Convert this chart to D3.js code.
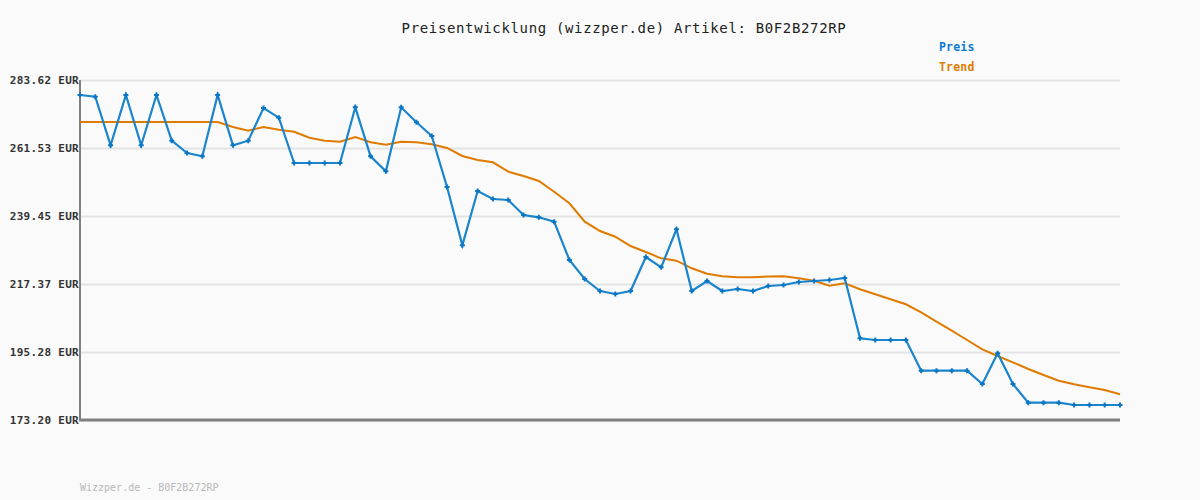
<!DOCTYPE html>
<html><head><meta charset="utf-8">
<script src="https://cdn.jsdelivr.net/npm/d3@7"></script>
<style>
html,body{margin:0;padding:0;background:#fafafa;}
svg{display:block;}
text{font-family:"DejaVu Sans Mono","Liberation Mono",monospace;}
</style></head><body>
<svg id="c" width="1200" height="500"></svg>
<script>
const title = "Preisentwicklung (wizzper.de) Artikel: B0F2B272RP";
const footer = "Wizzper.de - B0F2B272RP";
const seriesNames = ["Preis", "Trend"];
const yTicks = [173.20, 195.28, 217.37, 239.45, 261.53, 283.62];
const preis = [278.75, 278.20, 262.41, 278.75, 262.41, 278.75, 263.91, 259.91, 258.84, 278.75,
  262.41, 263.91, 274.53, 271.38, 256.66, 256.66, 256.66, 256.66, 274.75, 258.84,
  253.97, 274.75, 269.88, 265.43, 248.87, 229.94, 247.57, 244.97, 244.65, 239.78,
  239.03, 237.60, 225.16, 218.99, 215.09, 214.12, 215.09, 226.14, 222.79, 235.13,
  215.09, 218.34, 215.09, 215.74, 215.09, 216.72, 217.04, 218.02, 218.34, 218.67,
  219.32, 199.73, 199.18, 199.18, 199.18, 189.21, 189.21, 189.21, 189.21, 184.89,
  194.86, 184.89, 178.82, 178.82, 178.82, 178.07, 178.07, 178.07, 178.07];
const trend = [269.98, 269.98, 269.98, 269.98, 269.98, 269.98, 269.98, 269.98, 269.98, 269.98,
  268.36, 267.15, 268.36, 267.48, 266.83, 264.88, 263.91, 263.58, 265.11, 263.39,
  262.61, 263.58, 263.39, 262.74, 261.54, 258.94, 257.64, 256.89, 253.84, 252.44,
  250.82, 247.34, 243.58, 237.60, 234.58, 232.73, 229.71, 227.76, 225.71, 224.93,
  222.47, 220.71, 219.87, 219.54, 219.54, 219.80, 219.87, 219.22, 218.44, 216.82,
  217.60, 215.65, 214.02, 212.40, 210.78, 208.18, 205.12, 202.20, 199.18, 196.16,
  193.98, 191.94, 189.76, 187.81, 185.96, 184.79, 183.82, 182.94, 181.55];

const svg = d3.select("#c");
const L = 80, R = 1120, T = 80, B = 420;
const x = d3.scaleLinear().domain([0, preis.length - 1]).range([L, R]);
const y = d3.scaleLinear().domain([yTicks[0], yTicks[yTicks.length - 1]]).range([B, T]);

svg.append("rect").attr("width", 1200).attr("height", 500).attr("fill", "#fafafa");

// grid
const yAxis = d3.axisLeft(y).tickValues(yTicks).tickSize(-(R - L)).tickFormat(d => d.toFixed(2) + " EUR").tickPadding(0);
const ga = svg.append("g").attr("transform", `translate(${L},0)`).call(yAxis);
ga.select(".domain").remove();
ga.selectAll(".tick line").attr("stroke", "#e3e3e3").attr("stroke-width", 2);
ga.selectAll(".tick text").attr("fill", "#333").attr("font-size", 11).attr("font-weight", "bold")
  .attr("letter-spacing", "0.3px").attr("dy", "0.35em").attr("x", -1);

// axes lines
svg.append("line").attr("x1", L).attr("x2", L).attr("y1", T).attr("y2", B + 1)
  .attr("stroke", "#808080").attr("stroke-width", 2);
svg.append("line").attr("x1", L - 1).attr("x2", R).attr("y1", B).attr("y2", B)
  .attr("stroke", "#808080").attr("stroke-width", 3);

// trend line
svg.append("path").datum(trend).attr("fill", "none").attr("stroke", "#e07b00").attr("stroke-width", 2)
  .attr("d", d3.line().x((d, i) => x(i)).y(d => y(d)));

// price line
svg.append("path").datum(preis).attr("fill", "none").attr("stroke", "#1a84cc").attr("stroke-width", 2.2)
  .attr("d", d3.line().x((d, i) => x(i)).y(d => y(d)));

const cross = svg.append("g");
preis.forEach((d, i) => {
  const cx = x(i), cy = y(d);
  cross.append("path").attr("d", `M${cx - 2.5},${cy}H${cx + 2.5}M${cx},${cy - 2.5}V${cy + 2.5}`)
    .attr("stroke", "#0a76c4").attr("stroke-width", 2);
});

// title
svg.append("text").attr("x", 624).attr("y", 33).attr("text-anchor", "middle")
  .attr("font-size", 14).attr("letter-spacing", "0.65px").attr("fill", "#222").text(title);

// legend
const legColors = ["#0a7bd0", "#e07b00"];
seriesNames.forEach((n, i) => {
  svg.append("text").attr("x", 939).attr("y", 51 + i * 20).attr("font-size", 11.5).attr("font-weight", "bold")
    .attr("letter-spacing", "0.2px").attr("fill", legColors[i]).text(n);
});

// footer
svg.append("text").attr("x", 80).attr("y", 491).attr("font-size", 10).attr("letter-spacing", "0px")
  .attr("fill", "#b8b8b8").text(footer);
</script>
</body></html>
